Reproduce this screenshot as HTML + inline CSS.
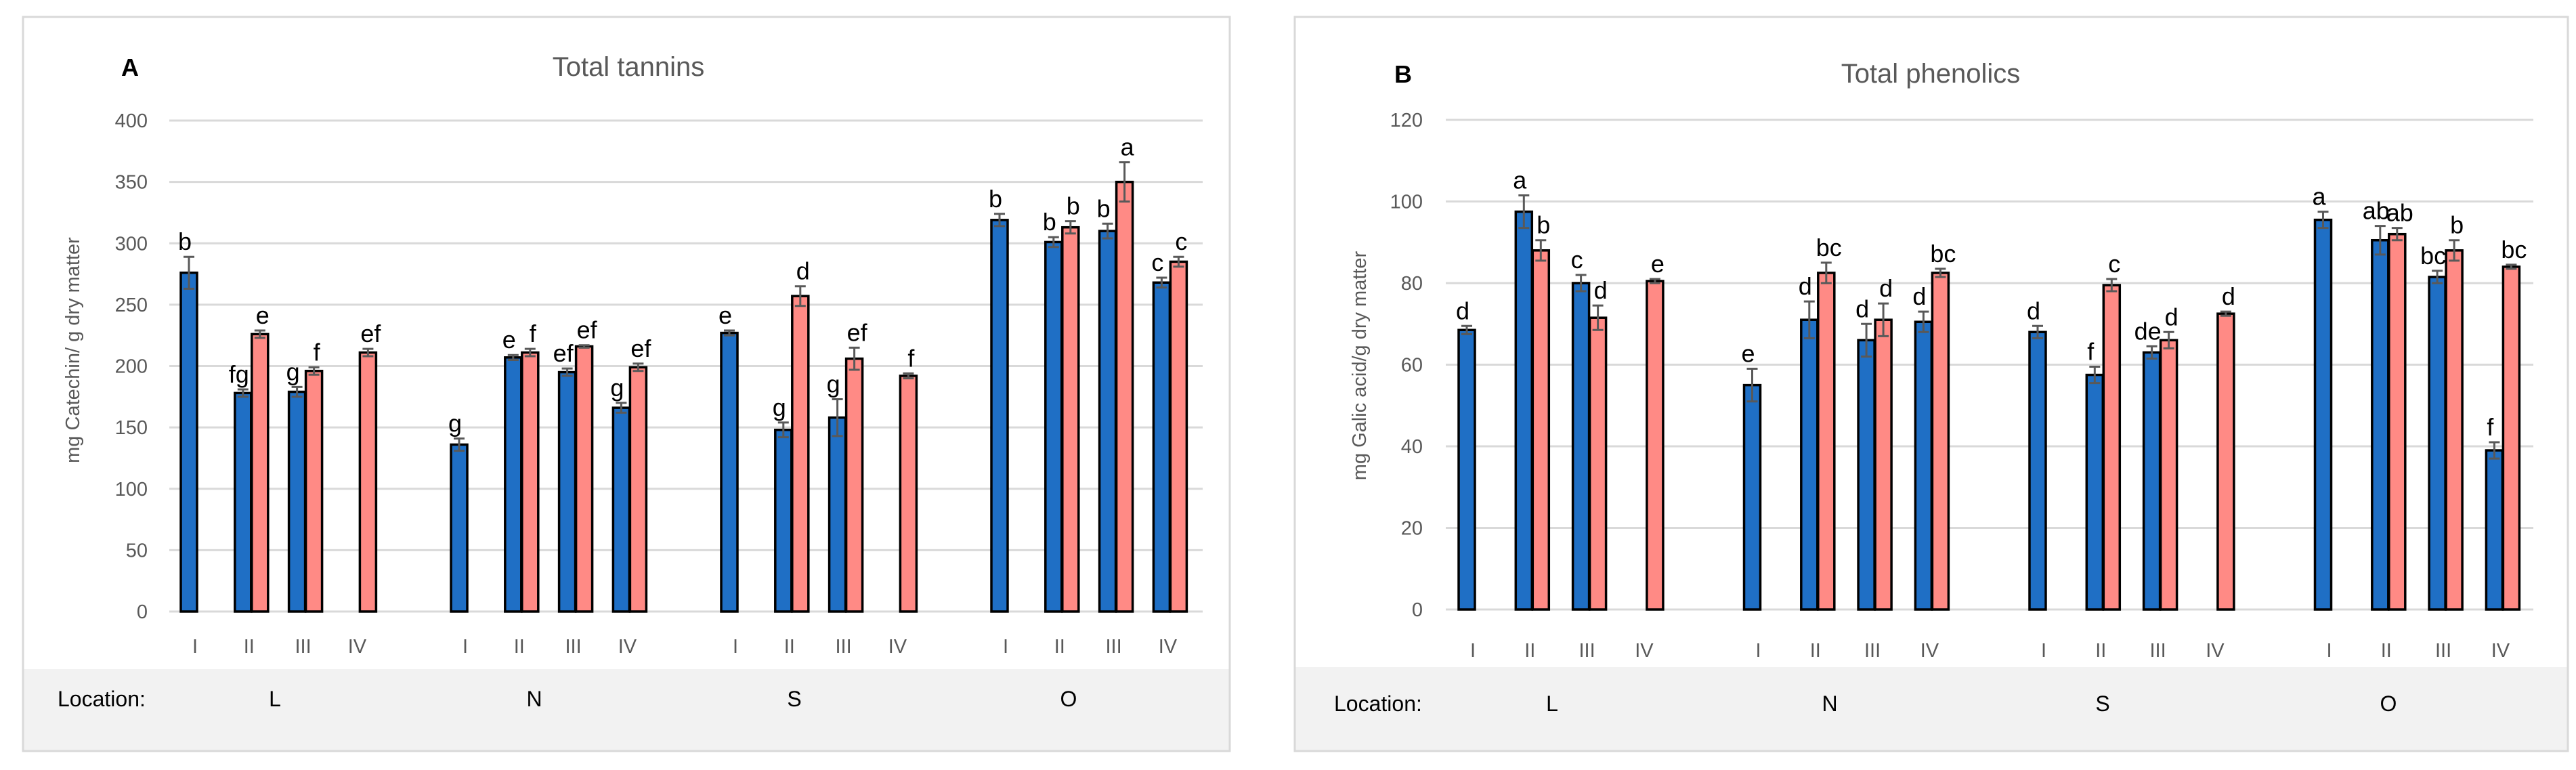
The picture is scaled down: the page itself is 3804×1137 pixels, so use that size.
<!DOCTYPE html>
<html><head><meta charset="utf-8"><style>
html,body{margin:0;padding:0;background:#fff;}
svg{display:block;font-family:"Liberation Sans",sans-serif;}
</style></head><body>
<svg id="c" width="3804" height="1137" viewBox="0 0 3804 1137" xmlns="http://www.w3.org/2000/svg"></svg>
<script>
const NS="http://www.w3.org/2000/svg";
const categories=["I","II","III","IV"];
const locations=["L","N","S","O"];
// Panel A: Total tannins
const tanBlue=[276,178,179,null, 136,207,195,166, 227,148,158,null, 319,301,310,268];
const tanRed=[null,226,196,211, null,211,216,199, null,257,206,192, null,313,350,285];
const tanBlueErr=[13,3,4,0, 5,2,3,4, 2,6,15,0, 5,4,6,4];
const tanRedErr=[0,3,3,3, 0,3,1,3, 0,8,9,2, 0,5,16,4];
const tanBlueLet=["b","fg","g","", "g","e","ef","g", "e","g","g","", "b","b","b","c"];
const tanRedLet=["","e","f","ef", "","f","ef","ef", "","d","ef","f", "","b","a","c"];
const tanTicks=[0,50,100,150,200,250,300,350,400];
// Panel B: Total phenolics
const phBlue=[68.5,97.5,80,null, 55,71,66,70.5, 68,57.5,63,null, 95.5,90.5,81.5,39];
const phRed=[null,88,71.5,80.5, null,82.5,71,82.5, null,79.5,66,72.5, null,92,88,84];
const phBlueErr=[1,4,2,0, 4,4.5,4,2.5, 1.5,2,1.5,0, 2,3.5,1.5,2];
const phRedErr=[0,2.5,3,0.5, 0,2.5,4,1, 0,1.5,2,0.5, 0,1.5,2.5,0.5];
const phBlueLet=["d","a","c","", "e","d","d","d", "d","f","de","", "a","ab","bc","f"];
const phRedLet=["","b","d","e", "","bc","d","bc", "","c","d","d", "","ab","b","bc"];
const phTicks=[0,20,40,60,80,100,120];

const svg=document.getElementById('c');
function el(tag,attrs,parent,text){const e=document.createElementNS(NS,tag);for(const k in attrs)e.setAttribute(k,attrs[k]);if(text!==undefined)e.textContent=text;(parent||svg).appendChild(e);return e;}

function panel(cfg){
  const g=el('g',{});
  
  
  const fr=el('rect',{x:cfg.fx,y:25,width:cfg.fw,height:1084,fill:'#fff',stroke:'#d9d9d9','stroke-width':3},g);
  
  
  const band=el('rect',{x:cfg.fx+1.5,y:cfg.bandY,width:cfg.fw-3,height:1107.5-cfg.bandY,fill:'#f2f2f2'},g);
  
  
  const y=v=>cfg.y0+(cfg.yTop-cfg.y0)*v/cfg.max;
  const cx=i=>cfg.c0+(Math.floor(i/4)*5+i%4)*cfg.slot;
  cfg.ticks.forEach(t=>{
    const l=el('line',{x1:cfg.px0,x2:cfg.px1,y1:y(t),y2:y(t),stroke:'#d9d9d9','stroke-width':3},g);
    
    
    const tx=el('text',{x:cfg.tickX,y:y(t)+10,'text-anchor':'end','font-size':29,fill:'#595959'},g,String(t));
    
    
  });
  const tt=el('text',{x:cfg.titleX,y:cfg.titleY,'text-anchor':'middle','font-size':40,fill:'#595959'},g,cfg.title);
  
  
  const pl=el('text',{x:cfg.letX,y:cfg.titleY,'text-anchor':'middle','font-size':36,'font-weight':'bold',fill:'#000'},g,cfg.letter);
  
  
  const yt=el('text',{x:0,y:0,'text-anchor':'middle','font-size':29,fill:'#595959',transform:`translate(${cfg.ytX},${cfg.ytY}) rotate(-90)`},g,cfg.yTitle);
  
  
  for(let i=0;i<16;i++){
    const c=cx(i);
    const cl=el('text',{x:c-4,y:cfg.catY,'text-anchor':'middle','font-size':29,fill:'#595959'},g,categories[i%4]);
    
    
    [[cfg.blue,cfg.blueErr,cfg.blueLet,c-25,'#1f6fc5','blue'],[cfg.red,cfg.redErr,cfg.redLet,c,'#ff8a85','red']].forEach(([vals,errs,lets,x0,col,nm])=>{
      const v=vals[i]; if(v===null)return;
      const b=el('rect',{x:x0,y:y(v),width:24,height:y(0)-y(v),fill:col,stroke:'#000','stroke-width':3.5},g);
      
      
      const m=x0+12, e=errs[i];
      const eb=el('path',{d:`M${m},${y(v+e)}V${y(v-e)}M${m-8},${y(v+e)}H${m+8}M${m-8},${y(v-e)}H${m+8}`,stroke:'#595959','stroke-width':3,fill:'none'},g);
      
      
      if(lets[i]){
        const lx=nm==='blue'?m-6:m+4;
        const lt=el('text',{x:lx,y:y(v+e)-10,'text-anchor':'middle','font-size':36,fill:'#000'},g,lets[i]);
        
        
      }
    });
  }
  const ll=el('text',{x:cfg.locLabX,y:cfg.locY,'font-size':32,fill:'#000'},g,'Location:');
  
  
  locations.forEach((L,k)=>{
    const t=el('text',{x:cfg.locXs[k],y:cfg.locY,'text-anchor':'middle','font-size':32,fill:'#000'},g,L);
    
    
  });
}
panel({name:'panel-a-total-tannins',fx:34,fw:1782,bandY:988,y0:903,yTop:178,max:400,ticks:tanTicks,px0:250,px1:1776,tickX:218,
  c0:292,slot:79.8,title:'Total tannins',titleX:928,titleY:112,letter:'A',letX:192,yTitle:'mg Catechin/ g dry matter',ytX:117,ytY:517,catY:964,
  blue:tanBlue,red:tanRed,blueErr:tanBlueErr,redErr:tanRedErr,blueLet:tanBlueLet,redLet:tanRedLet,locLabX:85,locY:1043,locXs:[406,789,1173,1578]});
panel({name:'panel-b-total-phenolics',fx:1912,fw:1880,bandY:985,y0:900,yTop:177,max:120,ticks:phTicks,px0:2135,px1:3741,tickX:2101,
  c0:2179,slot:84.3,title:'Total phenolics',titleX:2851,titleY:122,letter:'B',letX:2072,yTitle:'mg Galic acid/g dry matter',ytX:2017,ytY:540,catY:970,
  blue:phBlue,red:phRed,blueErr:phBlueErr,redErr:phRedErr,blueLet:phBlueLet,redLet:phRedLet,locLabX:1970,locY:1050,locXs:[2292,2702,3105,3527]});
</script>
</body></html>
